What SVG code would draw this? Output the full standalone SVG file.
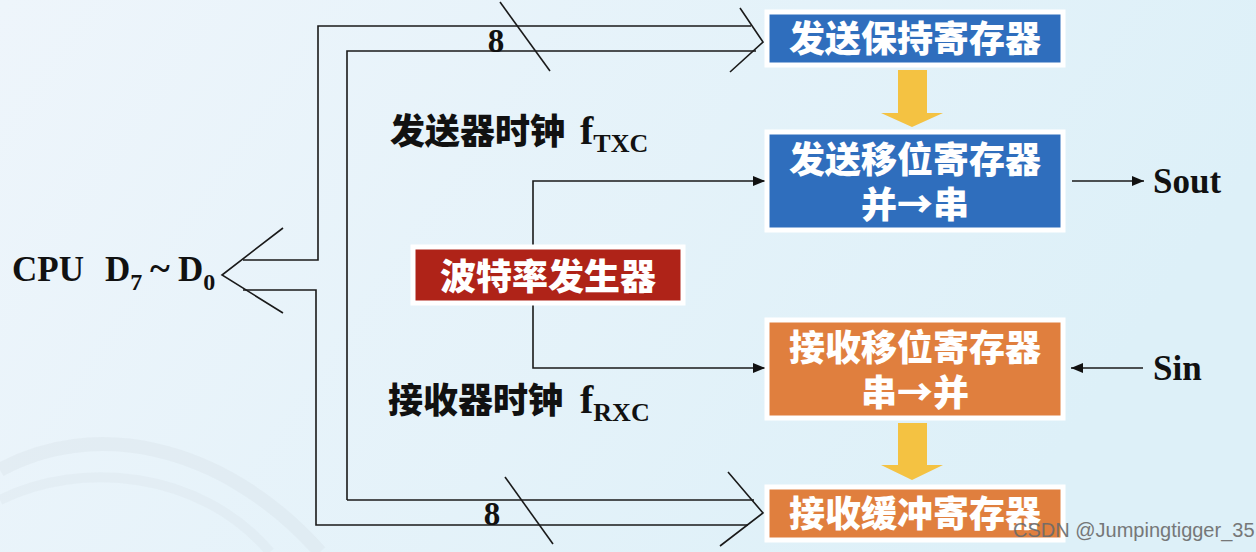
<svg xmlns="http://www.w3.org/2000/svg" width="1256" height="552" viewBox="0 0 1256 552">
<defs>
<linearGradient id="bg" x1="0" y1="0" x2="1" y2="0.3">
<stop offset="0" stop-color="#EEF5FB"/>
<stop offset="1" stop-color="#DDF0F8"/>
</linearGradient>
<marker id="ah" viewBox="0 0 12 10" refX="12" refY="5" markerWidth="12" markerHeight="10" markerUnits="userSpaceOnUse" orient="auto">
<path d="M0,0 L12,5 L0,10 Z" fill="#111"/>
</marker>
<style>
.ln{fill:none;stroke:#1a1a1a;stroke-width:1.6}
.box{stroke:#FFFFFF;stroke-width:5}
.blue{fill:#2F6EBD}
.orange{fill:#E07F3E}
.red{fill:#AF2318}
.bt{font-family:"Noto Sans CJK SC","Noto Sans",sans-serif;font-weight:900;font-size:36px;fill:#FFFFFF;text-anchor:middle}
.cl{font-family:"Noto Sans CJK SC","Noto Sans",sans-serif;font-weight:900;font-size:35px;fill:#111}
.sf{font-family:"Liberation Serif","Times New Roman",serif;font-weight:700;fill:#111}
.ya{fill:#F4C242}
</style>
</defs>
<rect x="0" y="0" width="1256" height="552" fill="url(#bg)"/>
<path d="M0,470 C90,420 220,440 320,552" fill="none" stroke="#D3DEE6" stroke-width="14" opacity="0.3"/>
<path d="M0,500 C80,460 200,470 270,552" fill="none" stroke="#D6E1E8" stroke-width="10" opacity="0.3"/>

<g id="connectors">
<path class="ln" d="M283,228 L222,275 L283,313"/>
<path class="ln" d="M243,260 H318 V26 H751"/>
<path class="ln" d="M347,500 V51 H756"/>
<path class="ln" d="M740,8 L763,42 L730,72"/>
<line class="ln" x1="500" y1="2" x2="550" y2="71"/>
<path class="ln" d="M347,500 H754"/>
<path class="ln" d="M243,290 H316 V525 H748"/>
<path class="ln" d="M728,472 L763,513 L720,546"/>
<line class="ln" x1="505" y1="477" x2="553" y2="544"/>
<path class="ln" d="M533,247 V181 H765" marker-end="url(#ah)"/>
<path class="ln" d="M533,303 V368 H765" marker-end="url(#ah)"/>
<line class="ln" x1="1072" y1="181" x2="1144" y2="181" marker-end="url(#ah)"/>
<line class="ln" x1="1143" y1="368" x2="1071" y2="368" marker-end="url(#ah)"/>
<polygon class="ya" points="898,70 927,70 927,113 943,113 912,127 881,113 898,113"/>
<polygon class="ya" points="898,423 927,423 927,465 943,465 912,480 881,465 898,465"/>
</g>

<g id="tx-hold">
<rect class="box blue" x="767" y="12" width="296" height="53"/>
<text class="bt" x="915" y="52">发送保持寄存器</text>
</g>
<g id="tx-shift">
<rect class="box blue" x="767" y="132" width="296" height="98"/>
<text class="bt" x="915" y="173">发送移位寄存器<tspan x="915" dy="45">并→串</tspan></text>
</g>
<g id="rx-shift">
<rect class="box orange" x="767" y="320" width="296" height="98"/>
<text class="bt" x="915" y="361">接收移位寄存器<tspan x="915" dy="45">串→并</tspan></text>
</g>
<g id="rx-buf">
<rect class="box orange" x="767" y="487" width="296" height="53"/>
<text class="bt" x="915" y="527">接收缓冲寄存器</text>
</g>
<g id="baud">
<rect class="box red" x="413" y="247" width="270" height="56"/>
<text class="bt" x="548" y="290">波特率发生器</text>
</g>

<g id="labels">
<text class="cl" x="390" y="144">发送器时钟</text>
<text class="sf" x="580" y="144" font-size="40">f<tspan font-size="26" dy="8">TXC</tspan></text>
<text class="cl" x="388" y="413">接收器时钟</text>
<text class="sf" x="580" y="413" font-size="40">f<tspan font-size="26" dy="8">RXC</tspan></text>
<text class="sf" font-size="35" x="12" y="281">CPU</text>
<text class="sf" font-size="35" x="105" y="281">D<tspan font-size="24" dy="9">7</tspan></text>
<text class="sf" font-size="38" x="150" y="281">~</text>
<text class="sf" font-size="35" x="178" y="281">D<tspan font-size="24" dy="9">0</tspan></text>
<text class="sf" font-size="33" x="496" y="52" text-anchor="middle">8</text>
<text class="sf" font-size="33" x="492" y="525" text-anchor="middle">8</text>
<text class="sf" font-size="35" x="1153" y="193">Sout</text>
<text class="sf" font-size="35" x="1153" y="380">Sin</text>
<text x="1013" y="537" font-family="Liberation Sans,Arial,sans-serif" font-size="20" fill="#6B6B6B" opacity="0.9">CSDN @Jumpingtigger_35</text>
</g>
</svg>
